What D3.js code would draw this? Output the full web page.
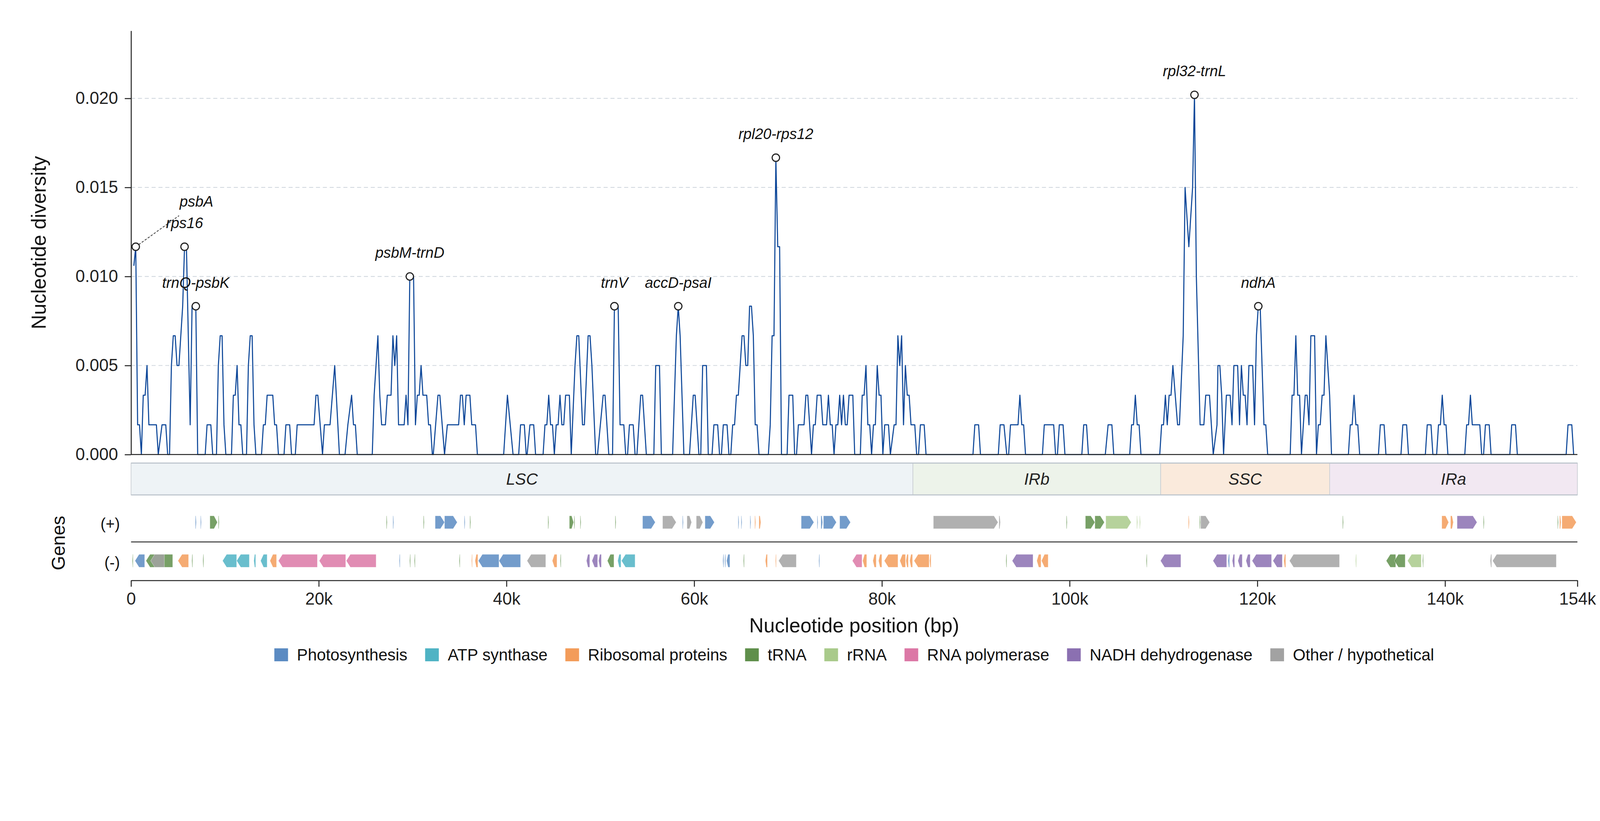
<!DOCTYPE html>
<html>
<head>
<meta charset="utf-8">
<script src="https://cdn.jsdelivr.net/npm/d3@7"></script>
<style>
  html, body { margin: 0; padding: 0; background: #fff; width: 100%; height: 100%; overflow: hidden; }
  svg { display: block; width: 100vw; height: 100vh; font-family: "Liberation Sans", Arial, sans-serif; }
</style>
</head>
<body>
<svg id="chart" viewBox="0 0 4322 2102" preserveAspectRatio="xMidYMin meet"></svg>
<script>
// ---- data ----
const genomeLength = 154100;
const xTickValues = [0, 20000, 40000, 60000, 80000, 100000, 120000, 140000, 154100];
const yTickValues = [0, 0.005, 0.010, 0.015, 0.020];
const yTop = 0.0238;

const regionNames = ["LSC", "IRb", "SSC", "IRa"];
const regionStarts = [0, 83300, 109700, 127700];
const regionEnds = [83300, 109700, 127700, 154100];

// sliding window nucleotide diversity, [window midpoint (bp), Pi]
const diversity = [
  [300,0.0106],[500,0.01167],[700,0.00167],[900,0.00167],[1100,0],[1300,0.00333],[1500,0.00333],[1700,0.005],
  [1900,0.00167],[2700,0.00167],[2900,0],[3300,0.00167],[3700,0.00167],[3900,0],[4100,0],[4300,0.005],
  [4500,0.00667],[4700,0.00667],[4900,0.005],[5100,0.005],[5500,0.00833],[5700,0.01167],[5900,0.01167],
  [6300,0.00167],[6500,0.00833],[6900,0.00833],[7100,0],[7900,0],[8100,0.00167],[8500,0.00167],[8700,0],
  [9100,0],[9300,0.005],[9500,0.00667],[9700,0.00667],[9900,0.00167],[10100,0],[10700,0],[10900,0.00333],
  [11100,0.00333],[11300,0.005],[11500,0.00167],[11700,0.00167],[11900,0],[12300,0],[12500,0.005],
  [12700,0.00667],[12900,0.00667],[13100,0.00167],[13300,0],[13900,0],[14100,0.00167],[14300,0.00167],
  [14500,0.00333],[15100,0.00333],[15300,0.00167],[15500,0.00167],[15700,0],[16300,0],[16500,0.00167],
  [16900,0.00167],[17100,0],[17500,0],[17700,0.00167],[19500,0.00167],[19700,0.00333],[19900,0.00333],
  [20400,0],[20600,0.00167],[21200,0.00167],[21700,0.005],[22200,0],[22800,0],[23100,0.00167],
  [23500,0.00333],[23700,0.00167],[23900,0.00167],[24100,0],[25700,0],[25900,0.00333],[26300,0.00667],
  [26500,0.00333],[26700,0.00167],[27100,0.00167],[27300,0.00333],[27700,0.00333],[27900,0.00667],
  [28100,0.005],[28300,0.00667],[28500,0.00167],[29100,0.00167],[29300,0.00333],[29500,0.00167],
  [29700,0.01],[30100,0.01],[30300,0.00167],[30500,0.00333],[30700,0.00333],[30900,0.005],
  [31100,0.00333],[31500,0.00333],[31700,0.00167],[31900,0.00167],[32100,0],[32200,0],[32700,0.00333],
  [32900,0.00333],[33400,0],[33700,0.00167],[34900,0.00167],[35100,0.00333],[35300,0.00333],
  [35500,0.00167],[35700,0.00333],[36100,0.00333],[36300,0.00167],[36700,0.00167],[36900,0],[39700,0],
  [40100,0.00333],[40700,0],[41300,0],[41500,0.00167],[41900,0.00167],[42100,0],[42200,0],[42500,0.00167],
  [42900,0.00167],[43100,0],[43900,0],[44100,0.00167],[44300,0.00167],[44500,0.00333],[44700,0.00167],
  [44900,0.00167],[45100,0],[45300,0.00167],[45500,0.00167],[45700,0.00333],[45900,0.00167],
  [46100,0.00167],[46300,0.00333],[46700,0.00333],[46900,0],[47300,0.005],[47500,0.00667],[47700,0.00667],
  [48100,0.00167],[48300,0.00167],[48700,0.00667],[48900,0.00667],[49100,0.005],[49500,0],[49700,0],
  [50300,0.00333],[50500,0.00333],[50900,0],[51300,0],[51500,0.00833],[51900,0.00833],[52100,0.00167],
  [52500,0.00167],[52700,0],[52900,0],[53100,0.00167],[53500,0.00167],[53700,0],[53900,0],[54300,0.00333],
  [54500,0.00333],[54900,0],[55700,0],[55900,0.005],[56300,0.005],[56500,0],[57700,0],[58100,0.00667],
  [58300,0.00833],[58500,0.00667],[58900,0],[59500,0],[59900,0.00333],[60100,0.00333],[60500,0],[60700,0],
  [60900,0.005],[61300,0.005],[61500,0],[61900,0],[62100,0.00167],[62500,0.00167],[62700,0],[62900,0],
  [63100,0.00167],[63500,0.00167],[63700,0],[63900,0],[64100,0.00167],[64300,0.00167],[64500,0.00333],
  [64700,0.00333],[65100,0.00667],[65300,0.00667],[65500,0.005],[65700,0.005],[65900,0.00833],
  [66100,0.00833],[66300,0.00667],[66500,0.00167],[66700,0.00167],[66900,0],[67900,0],[68100,0.00167],
  [68300,0.00667],[68500,0.00667],[68700,0.01667],[68900,0.01167],[69100,0.01167],[69300,0],[69900,0],
  [70100,0.00333],[70500,0.00333],[70700,0],[70900,0],[71100,0.00167],[71700,0.00167],[71900,0.00333],
  [72100,0.00333],[72500,0],[72700,0.00167],[72900,0.00167],[73100,0.00333],[73500,0.00333],
  [73700,0.00167],[74100,0.00167],[74300,0.00333],[74500,0.00167],[74700,0.00167],[74900,0],
  [75100,0.00167],[75300,0.00167],[75500,0.00333],[75700,0.00167],[75900,0.00333],[76100,0.00167],
  [76300,0.00167],[76500,0.00333],[76900,0.00333],[77100,0],[77700,0],[77900,0.00333],[78100,0.00333],
  [78300,0.005],[78500,0.00167],[78700,0.00167],[78900,0],[79100,0.00167],[79300,0.00167],[79500,0.005],
  [79700,0.00333],[79900,0.00333],[80100,0],[80300,0.00167],[80700,0.00167],[80900,0],[81300,0.00167],
  [81500,0.00167],[81700,0.00667],[81900,0.005],[82100,0.00667],[82300,0.00167],[82500,0.005],
  [82700,0.00333],[82900,0.00333],[83100,0.00167],[83500,0.00167],[83700,0],[83900,0],[84100,0.00167],
  [84500,0.00167],[84700,0],[89700,0],[89900,0.00167],[90300,0.00167],[90500,0],[92400,0],[92600,0.00167],
  [93000,0.00167],[93300,0],[93500,0],[93700,0.00167],[94500,0.00167],[94700,0.00333],[94900,0.00167],
  [95100,0.00167],[95300,0],[97100,0],[97300,0.00167],[98300,0.00167],[98500,0],[98700,0],[98900,0.00167],
  [99300,0.00167],[99500,0],[101300,0],[101500,0.00167],[101800,0.00167],[102000,0],[103800,0],
  [104100,0.00167],[104500,0.00167],[104700,0],[106400,0],[106600,0.00167],[106800,0.00167],
  [107000,0.00333],[107200,0.00167],[107400,0.00167],[107600,0],[109600,0],[109800,0.00167],
  [110000,0.00167],[110200,0.00333],[110400,0.00167],[110600,0.00333],[110800,0.00333],[111000,0.005],
  [111500,0.00167],[111700,0.00167],[112100,0.00667],[112300,0.015],[112700,0.01167],[113100,0.015],
  [113300,0.0202],[113500,0.01],[113900,0.00167],[114300,0.00167],[114500,0.00333],[114900,0.00333],
  [115300,0],[115700,0.00167],[115800,0.005],[116000,0.005],[116200,0.00333],[116400,0],[116700,0.00333],
  [117100,0.00333],[117300,0.00167],[117500,0.005],[117900,0.005],[118100,0.00167],[118300,0.005],
  [118500,0.00333],[118700,0.00333],[118900,0.00167],[119100,0.005],[119500,0.005],[119700,0.00167],
  [119900,0.00667],[120100,0.00833],[120300,0.00833],[120700,0.00167],[120900,0.00167],[121100,0],
  [123500,0],[123700,0.00333],[123900,0.00333],[124100,0.00667],[124300,0.00333],[124500,0.00333],
  [124700,0],[125100,0.00333],[125300,0.00333],[125500,0.00167],[125700,0.00667],[126100,0.00667],
  [126300,0],[126500,0.00167],[126700,0.00167],[126900,0.00333],[127100,0.00333],[127300,0.00667],
  [127700,0.00333],[127900,0],[129700,0],[129900,0.00167],[130100,0.00167],[130300,0.00333],
  [130500,0.00167],[130700,0.00167],[130900,0],[132900,0],[133100,0.00167],[133500,0.00167],[133700,0],
  [135300,0],[135500,0.00167],[135900,0.00167],[136100,0],[137900,0],[138100,0.00167],[138500,0.00167],
  [138700,0],[139100,0],[139300,0.00167],[139500,0.00167],[139700,0.00333],[139900,0.00167],
  [140100,0.00167],[140300,0],[142100,0],[142300,0.00167],[142500,0.00167],[142700,0.00333],
  [142900,0.00167],[143700,0.00167],[143900,0],[144100,0],[144300,0.00167],[144700,0.00167],[144900,0],
  [146900,0],[147100,0.00167],[147500,0.00167],[147700,0],[152900,0],[153100,0.00167],[153500,0.00167],
  [153700,0]
];

// highlighted hotspots
const hotspotNames = ["psbA", "rps16", "trnQ-psbK", "psbM-trnD", "trnV", "accD-psaI", "rpl20-rps12", "rpl32-trnL", "ndhA"];
const hotspotPositions = [500, 5700, 6900, 29700, 51500, 58300, 68700, 113300, 120100];

// genes: [start, end, strand]
const photosynthesisGenes = [
  [6850,6950,1],[7400,7480,1],[27900,27980,1],[32400,33400,1],[33400,34750,1],[35500,35560,1],
  [54500,55850,1],[58750,58820,1],[61150,62150,1],[64680,64740,1],[65000,65050,1],[65950,66000,1],
  [71400,72750,1],[73100,73160,1],[73500,73680,1],[73770,75150,1],[75500,76650,1],
  [420,1450,-1],[28600,28660,-1],[37000,39200,-1],[39200,41500,-1],[63050,63150,-1],[63250,63350,-1],
  [63450,63800,-1],[73300,73360,-1],[116880,117030,-1]
];
const atpGenes = [
  [9750,11250,-1],[11250,12600,-1],[13080,13280,-1],[13800,14500,-1],[51850,52200,-1],[52250,53700,-1]
];
const ribosomalGenes = [
  [66450,66550,1],[66900,67100,1],[112650,112750,1],[139650,140380,1],[140580,140880,1],
  [152200,152350,1],[152450,153980,1],
  [5000,6130,-1],[14800,15500,-1],[36300,36360,-1],[36650,36950,-1],[44880,45380,-1],[67580,67800,-1],
  [68680,68740,-1],[77950,78380,-1],[79040,79390,-1],[79640,79990,-1],[80250,81710,-1],[81910,82510,-1],
  [82560,82810,-1],[82960,83260,-1],[83420,85030,-1],[85080,85230,-1],[96500,96950,-1],[97000,97710,-1],
  [122820,123020,-1]
];
const trnaGenes = [
  [8400,9200,1],[9300,9360,1],[27200,27250,1],[31150,31200,1],[36100,36150,1],[44420,44460,1],
  [46700,47150,1],[47200,47250,1],[47850,47900,1],[51580,51620,1],[99650,99700,1],[101680,102690,1],
  [102690,103700,1],[113840,113890,1],[129080,129120,1],[144080,144130,1],[151980,152040,1],
  [150,220,-1],[1590,4436,-1],[6500,6560,-1],[7680,7740,-1],[29720,29770,-1],[30220,30270,-1],
  [35000,35050,-1],[45760,45810,-1],[50750,51450,-1],[65280,65330,-1],[93250,93300,-1],
  [108200,108250,-1],[133730,134740,-1],[134590,135750,-1],[137640,137690,-1]
];
const rrnaGenes = [
  [103850,106560,1],[107150,107200,1],[107450,107500,1],
  [130500,130550,-1],[136000,137460,-1]
];
const rnaPolymeraseGenes = [
  [15700,19850,-1],[20050,22870,-1],[22930,26110,-1],[76850,77880,-1]
];
const ndhGenes = [
  [141280,143400,1],
  [48520,48870,-1],[49110,49710,-1],[49810,50110,-1],[93880,96100,-1],[109680,111850,-1],
  [115270,116730,-1],[117330,117580,-1],[117930,118390,-1],[118790,119240,-1],[119440,121510,-1],
  [121660,122660,-1]
];
const otherGenes = [
  [56630,58080,1],[59230,59720,1],[60220,60920,1],[85480,92370,1],[92470,92620,1],[113960,114920,1],
  [2090,3550,-1],[42190,44180,-1],[68990,70880,-1],[123420,128750,-1],[144810,144960,-1],[145060,151850,-1]
];

const geneCategories = ["Photosynthesis", "ATP synthase", "Ribosomal proteins", "tRNA", "rRNA",
  "RNA polymerase", "NADH dehydrogenase", "Other / hypothetical"];
const genesByCategory = [photosynthesisGenes, atpGenes, ribosomalGenes, trnaGenes, rrnaGenes,
  rnaPolymeraseGenes, ndhGenes, otherGenes];

// ---- styling / layout ----
const categoryColors = ["#5b8bc2", "#4fb3c4", "#f39c5a", "#5f8f4b", "#a9ca8b", "#dc78a6", "#8b70b1", "#a2a2a2"];
const regionColors = ["#eef3f6", "#edf3ea", "#faeadc", "#f2e8f2"];
const lineColor = "#0d4799";
const axisColor = "#262626";

const plotLeft = 354, plotRight = 4261;
const divTop = 83, divBottom = 1228;
const regionTop = 1251, regionBottom = 1337;
const plusY = 1411, minusY = 1515, strandLineY = 1464, geneAxisY = 1568, geneH = 35, headLen = 11;

const svg = d3.select("#chart");

const x = d3.scaleLinear().domain([0, genomeLength]).range([plotLeft, plotRight]);
const y = d3.scaleLinear().domain([0, yTop]).range([divBottom, divTop]);

function styleAxis(g, fontSize) {
  g.select(".domain").attr("stroke", axisColor).attr("stroke-width", 2.7);
  g.selectAll(".tick line").attr("stroke", axisColor).attr("stroke-width", 2.7);
  g.selectAll(".tick text").attr("fill", "#222").style("font-size", fontSize + "px")
    .style("font-family", "'Liberation Sans', Arial, sans-serif");
}

// grid
svg.append("g").selectAll("line")
  .data(yTickValues.filter(v => v > 0))
  .enter().append("line")
  .attr("x1", plotLeft).attr("x2", plotRight)
  .attr("y1", d => y(d)).attr("y2", d => y(d))
  .attr("stroke", "#d3d9e0").attr("stroke-width", 2.2)
  .attr("stroke-dasharray", "11 7.5");

// diversity line
const line = d3.line().x(d => x(d[0])).y(d => y(d[1]));
svg.append("path")
  .datum(diversity)
  .attr("d", line)
  .attr("fill", "none")
  .attr("stroke", lineColor)
  .attr("stroke-width", 2.9)
  .attr("stroke-linejoin", "round");

// axes of the diversity panel
const yAxis = svg.append("g")
  .attr("transform", `translate(${plotLeft},0)`)
  .call(d3.axisLeft(y).tickValues(yTickValues).tickFormat(d3.format(".3f")).tickSize(17).tickPadding(18).tickSizeOuter(0));
styleAxis(yAxis, 46);

svg.append("line")
  .attr("x1", plotLeft).attr("x2", plotRight)
  .attr("y1", divBottom).attr("y2", divBottom)
  .attr("stroke", axisColor).attr("stroke-width", 2.7);

svg.append("text")
  .attr("transform", `translate(105,${(divTop + divBottom) / 2}) rotate(-90)`)
  .attr("text-anchor", "middle").attr("dominant-baseline", "central")
  .style("font-size", "54px").attr("fill", "#111")
  .text("Nucleotide diversity");

// hotspots
const hotspots = hotspotNames.map((name, i) => {
  const pt = diversity.find(d => d[0] === hotspotPositions[i]);
  return {name: name, pos: pt[0], value: pt[1]};
});
const labelShift = {"psbA": [164, -58]};

const psbA = hotspots[0];
svg.append("line")
  .attr("x1", x(psbA.pos)).attr("y1", y(psbA.value))
  .attr("x2", x(psbA.pos) + 117).attr("y2", y(psbA.value) - 84)
  .attr("stroke", "#444").attr("stroke-width", 2.2).attr("stroke-dasharray", "6 4");

svg.selectAll(".hotspot")
  .data(hotspots)
  .enter().append("circle")
  .attr("class", "hotspot")
  .attr("cx", d => x(d.pos)).attr("cy", d => y(d.value))
  .attr("r", 10)
  .attr("fill", "#fff").attr("stroke", "#222").attr("stroke-width", 3);

svg.selectAll(".hotspot-label")
  .data(hotspots)
  .enter().append("text")
  .attr("class", "hotspot-label")
  .attr("x", d => x(d.pos) + (labelShift[d.name] ? labelShift[d.name][0] : 0))
  .attr("y", d => y(d.value) - 50 + (labelShift[d.name] ? labelShift[d.name][1] : 0))
  .attr("text-anchor", "middle")
  .style("font-size", "40px").style("font-style", "italic").attr("fill", "#111")
  .text(d => d.name);

// region bar
const regions = regionNames.map((n, i) => ({name: n, start: regionStarts[i], end: regionEnds[i], color: regionColors[i]}));
svg.selectAll(".region")
  .data(regions)
  .enter().append("rect")
  .attr("class", "region")
  .attr("x", d => x(d.start)).attr("width", d => x(d.end) - x(d.start))
  .attr("y", regionTop).attr("height", regionBottom - regionTop)
  .attr("fill", d => d.color).attr("stroke", "#c9ced4").attr("stroke-width", 1.8);
[regionTop, regionBottom].forEach(yy => {
  svg.append("line")
    .attr("x1", plotLeft).attr("x2", plotRight).attr("y1", yy).attr("y2", yy)
    .attr("stroke", "#bcc4cc").attr("stroke-width", 2.8);
});
svg.selectAll(".region-label")
  .data(regions)
  .enter().append("text")
  .attr("class", "region-label")
  .attr("x", d => (x(d.start) + x(d.end)) / 2)
  .attr("y", (regionTop + regionBottom) / 2)
  .attr("text-anchor", "middle").attr("dominant-baseline", "central")
  .style("font-size", "44px").style("font-style", "italic").attr("fill", "#222")
  .text(d => d.name);

// gene tracks
function genePath(g) {
  const cy = g[2] > 0 ? plusY : minusY;
  const top = cy - geneH / 2, bot = cy + geneH / 2;
  const w = Math.max(x(g[1]) - x(g[0]), 2.2);
  const h = Math.min(headLen, w * 0.45);
  if (g[2] > 0) {
    const xs = x(g[0]), xe = xs + w;
    return `M${xs},${top}L${xe - h},${top}L${xe},${cy}L${xe - h},${bot}L${xs},${bot}Z`;
  }
  const xe = x(g[1]), xs = xe - w;
  return `M${xe},${top}L${xs + h},${top}L${xs},${cy}L${xs + h},${bot}L${xe},${bot}Z`;
}

const geneLayer = svg.append("g");
genesByCategory.forEach((genes, i) => {
  geneLayer.append("g").selectAll("path")
    .data(genes)
    .enter().append("path")
    .attr("d", genePath)
    .attr("fill", categoryColors[i]).attr("fill-opacity", 0.85)
    .attr("stroke", "#fff").attr("stroke-opacity", 0.6).attr("stroke-width", 1);
});

svg.append("line")
  .attr("x1", plotLeft).attr("x2", plotRight)
  .attr("y1", strandLineY).attr("y2", strandLineY)
  .attr("stroke", "#333").attr("stroke-width", 2.7);

const xAxis = svg.append("g")
  .attr("transform", `translate(0,${geneAxisY})`)
  .call(d3.axisBottom(x).tickValues(xTickValues)
    .tickFormat(d => d === 0 ? "0" : Math.round(d / 1000) + "k")
    .tickSize(17).tickPadding(16).tickSizeOuter(0));
styleAxis(xAxis, 46);

[["(+)", plusY], ["(-)", minusY]].forEach(s => {
  svg.append("text")
    .attr("x", 324).attr("y", s[1] + 4)
    .attr("text-anchor", "end").attr("dominant-baseline", "central")
    .style("font-size", "42px").attr("fill", "#111")
    .text(s[0]);
});

svg.append("text")
  .attr("transform", `translate(158,${(plusY + minusY) / 2 + 4}) rotate(-90)`)
  .attr("text-anchor", "middle").attr("dominant-baseline", "central")
  .style("font-size", "50px").attr("fill", "#111")
  .text("Genes");

svg.append("text")
  .attr("x", (plotLeft + plotRight) / 2).attr("y", 1708)
  .attr("text-anchor", "middle")
  .style("font-size", "54px").attr("fill", "#111")
  .text("Nucleotide position (bp)");

// legend
const legendY = 1769, swatchW = 37, swatchH = 35, swatchGap = 24, itemGap = 48;
const legend = svg.append("g");
const items = legend.selectAll("g")
  .data(geneCategories)
  .enter().append("g");
items.append("rect")
  .attr("y", legendY - swatchH / 2).attr("width", swatchW).attr("height", swatchH)
  .attr("fill", (d, i) => categoryColors[i]);
items.append("text")
  .attr("x", swatchW + swatchGap).attr("y", legendY)
  .attr("dominant-baseline", "central")
  .style("font-size", "44px").attr("fill", "#111")
  .text(d => d);

let offset = 0;
const widths = [];
items.each(function() {
  const w = swatchW + swatchGap + d3.select(this).select("text").node().getComputedTextLength();
  widths.push(w);
});
const total = d3.sum(widths) + itemGap * (widths.length - 1);
const legendStart = (plotLeft + plotRight) / 2 - total / 2;
items.attr("transform", (d, i) => {
  const t = `translate(${legendStart + offset},0)`;
  offset += widths[i] + itemGap;
  return t;
});
</script>
</body>
</html>
